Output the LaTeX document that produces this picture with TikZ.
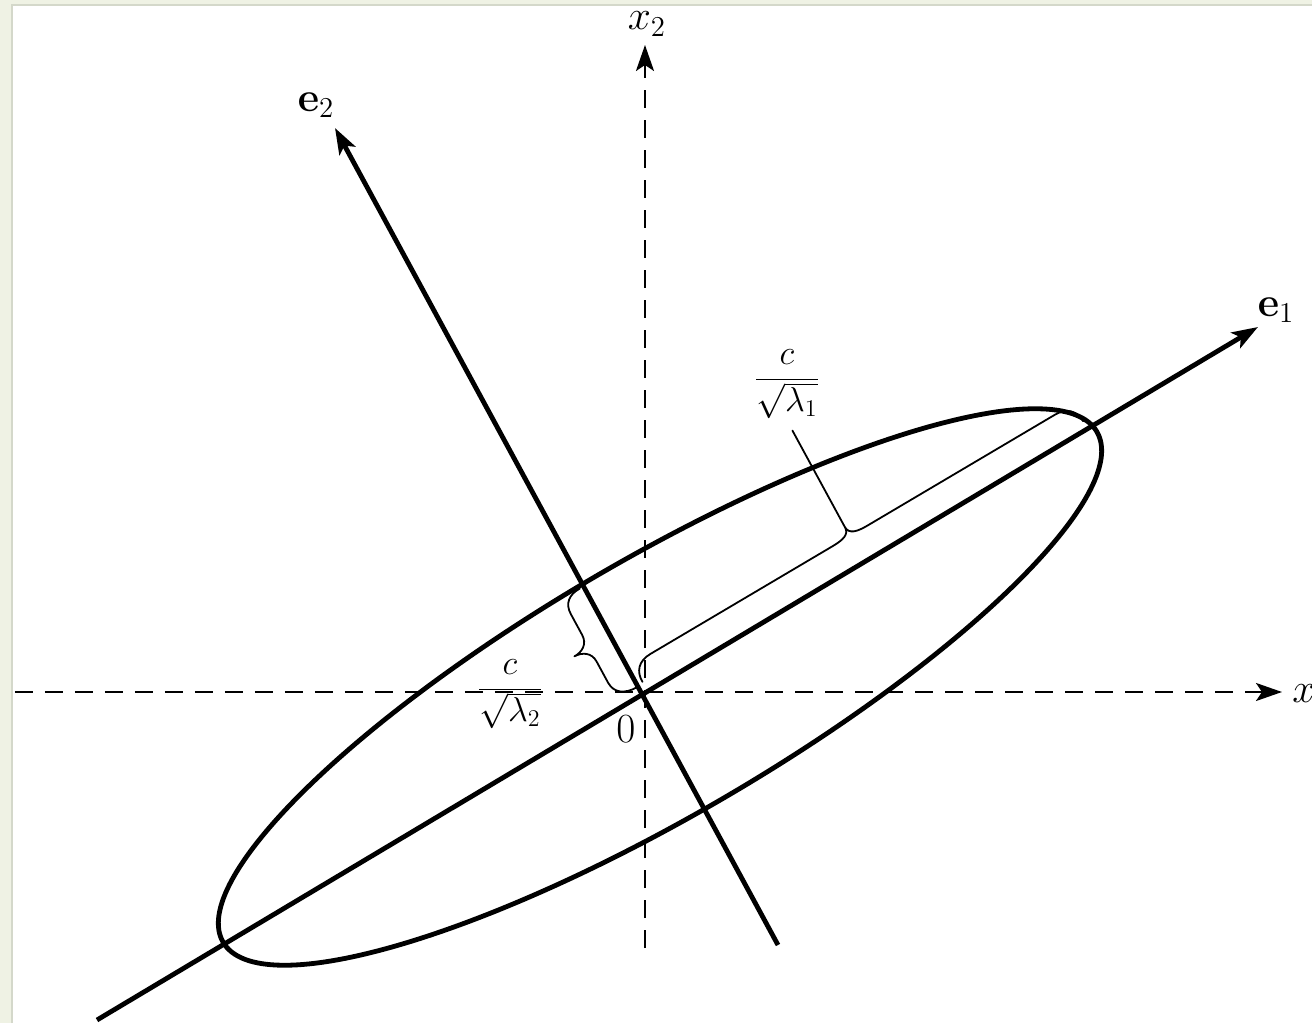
\documentclass[tikz,border=0pt]{standalone}
\usetikzlibrary{arrows.meta}
\definecolor{bggreen}{RGB}{239,242,228}
\definecolor{edgegray}{RGB}{212,216,202}
\begin{document}
\begin{tikzpicture}[x=0.5pt,y=0.5pt,
  tip/.style={-{Stealth[length=13pt,width=9pt,inset=3pt]}},
  dashaxis/.style={tip, line width=1.2pt, dash pattern=on 9pt off 6pt},
  eaxis/.style={tip, line width=2.4pt},
  curve/.style={line width=2.4pt},
  bracestyle/.style={line width=0.9pt, line join=round, line cap=round},
  lbl/.style={font=\fontsize{20}{24}\selectfont, inner sep=0pt},
  fraclbl/.style={font=\fontsize{17}{20}\selectfont, inner sep=0pt}]
\useasboundingbox (-645,-331) rectangle (667,692);
% background frame
\fill[bggreen] (-645,-331) rectangle (667,692);
\fill[white] (-633,-331) rectangle (667,687);
\draw[edgegray, line width=1pt] (-633,-331) -- (-633,687) -- (667,687);
% coordinates
\coordinate (O) at (0,0);
\coordinate (x2s) at (0,-256);
\coordinate (x2e) at (0,647);
\coordinate (x1s) at (-630,0);
\coordinate (x1e) at (637,0);
\coordinate (e1s) at (-548,-328);
\coordinate (e1e) at (613,365);
\coordinate (e2s) at (133,-253);
\coordinate (e2e) at (-310,564);
% ellipse
\draw[curve, rotate around={30.3:(15,5)}] (15,5) ellipse [x radius=506, y radius=128];
% axes
\draw[dashaxis] (x1s) -- (x1e);
\draw[dashaxis] (x2s) -- (x2e);
\draw[eaxis] (e1s) -- (e1e);
\draw[eaxis] (e2s) -- (e2e);
% brace along e1
\begin{scope}[rotate=30.6]
\draw[bracestyle] (3,10) .. controls (3,22) and (10,30) .. (24,30) -- (236,30)
  .. controls (248,30) and (256,32) .. (256,40)
  .. controls (256,32) and (264,30) .. (276,30) -- (494,30)
  .. controls (508,30) and (515,22) .. (515,10);
\coordinate (t1) at (256,40);
\coordinate (t1e) at (260,150);
\end{scope}
\draw[bracestyle] (t1) -- (t1e);
% brace along e2
\begin{scope}[rotate=118.5]
\draw[bracestyle] (8,5) .. controls (8,19) and (14,28) .. (26,28) -- (50,28)
  .. controls (60,28) and (65,36) .. (65,45)
  .. controls (65,36) and (70,28) .. (80,28) -- (104,28)
  .. controls (116,28) and (122,20) .. (122,8);
\end{scope}
% labels
\node[lbl] (lx2) at (2,668) {$x_2$};
\node[lbl] (le2) at (-329,587) {$\mathbf{e}_2$};
\node[lbl] (le1) at (631,382) {$\mathbf{e}_1$};
\node[lbl, anchor=west] (lx) at (647,-2) {$x$};
\node[fraclbl] (l1) at (142,308) {$\displaystyle\frac{c}{\sqrt{\lambda_1}}$};
\node[fraclbl] (l2) at (-135,-2) {$\displaystyle\frac{c}{\sqrt{\lambda_2}}$};
\node[lbl] (lo) at (-19,-37) {$0$};
\end{tikzpicture}
\end{document}
